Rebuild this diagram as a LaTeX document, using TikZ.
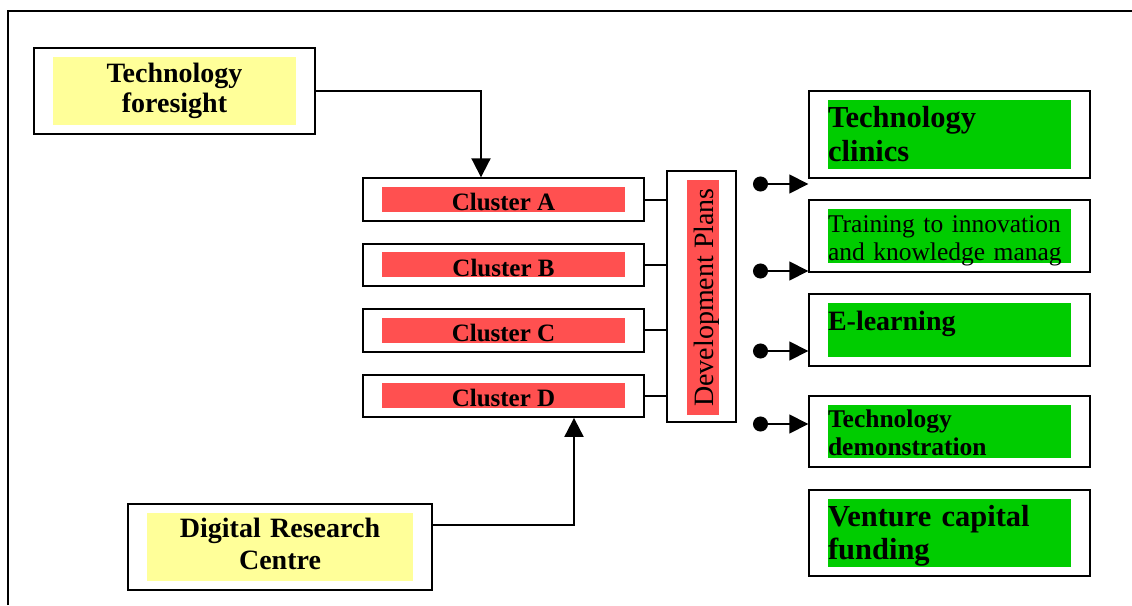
\documentclass[tikz,border=0pt]{standalone}
\usepackage{fontspec}
\setmainfont{Liberation Serif}
\usetikzlibrary{arrows.meta,fit,positioning}
\definecolor{inputyellow}{RGB}{255,255,153}
\definecolor{clusterred}{RGB}{255,80,80}
\definecolor{servicegreen}{RGB}{0,204,0}
\newcommand{\fsize}[2]{\fontsize{#1}{#2}\selectfont}
\tikzset{
  boxframe/.style={draw=black,line width=2pt,inner xsep=18.5pt,inner ysep=8.5pt},
  inputnote/.style={fill=inputyellow,inner sep=0pt,align=center,
    minimum height=68pt,font=\bfseries\fsize{28}{30}},
  clusterbar/.style={fill=clusterred,inner sep=0pt,minimum width=243pt,
    minimum height=25pt,text height=22.4pt,text depth=0pt,
    font=\bfseries\fsize{25}{28}},
  servicenote/.style={fill=servicegreen,inner sep=0pt,text width=243pt,
    align=left},
  link/.style={line width=2pt},
  feed/.style={line width=2pt,-{Triangle[length=19pt,width=19pt]}},
  offer/.style={line width=1.5pt,{Circle[length=15pt]}-{Triangle[length=19pt,width=19pt]}}
}

\begin{document}
\begin{tikzpicture}[x=1pt,y=-1pt]
  \useasboundingbox (0,0) rectangle (1132,605);
  \draw[link] (8,605) -- (8,11) -- (1132,11);

  % inputs
  \node[inputnote,text width=243pt,text height=20pt,text depth=38pt]
    (foresight) at (174.5,91) {Technology\\foresight};
  \node[boxframe,fit=(foresight)] (foresightbox) {};
  \node[inputnote,text width=266pt,text height=20pt,text depth=40pt,
    font=\bfseries\fsize{28}{32}] (drc) at (280,547) {Digital Research\\Centre};
  \node[boxframe,fit=(drc)] (drcbox) {};

  % clusters
  \node[clusterbar] (clA) at (503.5,199.5) {Cluster A};
  \node[clusterbar,below=40pt of clA] (clB) {Cluster B};
  \node[clusterbar,below=40pt of clB] (clC) {Cluster C};
  \node[clusterbar,below=40pt of clC] (clD) {Cluster D};
  \node[boxframe,fit=(clA)] (clAbox) {};
  \node[boxframe,fit=(clB)] (clBbox) {};
  \node[boxframe,fit=(clC)] (clCbox) {};
  \node[boxframe,fit=(clD)] (clDbox) {};

  % development plans
  \node[draw=black,line width=2pt,inner sep=0pt,minimum width=69pt,
    minimum height=251pt] (devbox) at (701.5,296.5) {};
  \node[fill=clusterred,rotate=90,inner sep=0pt,minimum width=235pt,
    minimum height=32pt,text height=20pt,text depth=0pt,font=\fsize{28}{30}]
    (devplans) at (703,297.5) {Development Plans};

  % services
  \node[servicenote,minimum height=69pt,text height=21pt,text depth=36pt,
    font=\bfseries\fsize{30.5}{34}] (clinics) at (949.5,134.5)
    {Technology\\clinics};
  \node[boxframe,fit=(clinics)] (clinicsbox) {};
  \node[servicenote,minimum height=54pt,text height=18pt,text depth=26pt,
    font=\fsize{25.5}{28}] (training) at (949.5,236)
    {Training to innovation\\and knowledge manag};
  \node[boxframe,fit=(training)] (trainingbox) {};
  \node[servicenote,minimum height=54pt,text height=19pt,text depth=19pt,
    font=\bfseries\fsize{28}{32}] (elearning) at (949.5,330) {E-learning};
  \node[boxframe,fit=(elearning)] (elearningbox) {};
  \node[servicenote,minimum height=53pt,text height=18pt,text depth=27pt,
    font=\bfseries\fsize{25.5}{28}] (demo) at (949.5,431.5)
    {Technology\\demonstration};
  \node[boxframe,fit=(demo)] (demobox) {};
  \node[servicenote,minimum height=68pt,text height=21pt,text depth=35pt,
    font=\bfseries\fsize{30.5}{33}] (venture) at (949.5,533)
    {Venture capital\\funding};
  \node[boxframe,fit=(venture)] (venturebox) {};

  % connectors
  \draw[feed] (foresightbox.east) -| ([xshift=-22.5pt]clAbox.north);
  \draw[feed] ([yshift=22pt]drcbox.east) -| ([xshift=70.5pt]clDbox.south);
  \draw[link] (clAbox.east) -- (clAbox.east -| devbox.west);
  \draw[link] (clBbox.east) -- (clBbox.east -| devbox.west);
  \draw[link] (clCbox.east) -- (clCbox.east -| devbox.west);
  \draw[link] (clDbox.east) -- (clDbox.east -| devbox.west);

  \coordinate (tapA) at (753,184);
  \coordinate (tapB) at (753,271);
  \coordinate (tapC) at (753,351);
  \coordinate (tapD) at (753,424);
  \draw[offer] (tapA) -- (tapA -| clinicsbox.west);
  \draw[offer] (tapB) -- (tapB -| trainingbox.west);
  \draw[offer] (tapC) -- (tapC -| elearningbox.west);
  \draw[offer] (tapD) -- (tapD -| demobox.west);
\end{tikzpicture}
\end{document}
